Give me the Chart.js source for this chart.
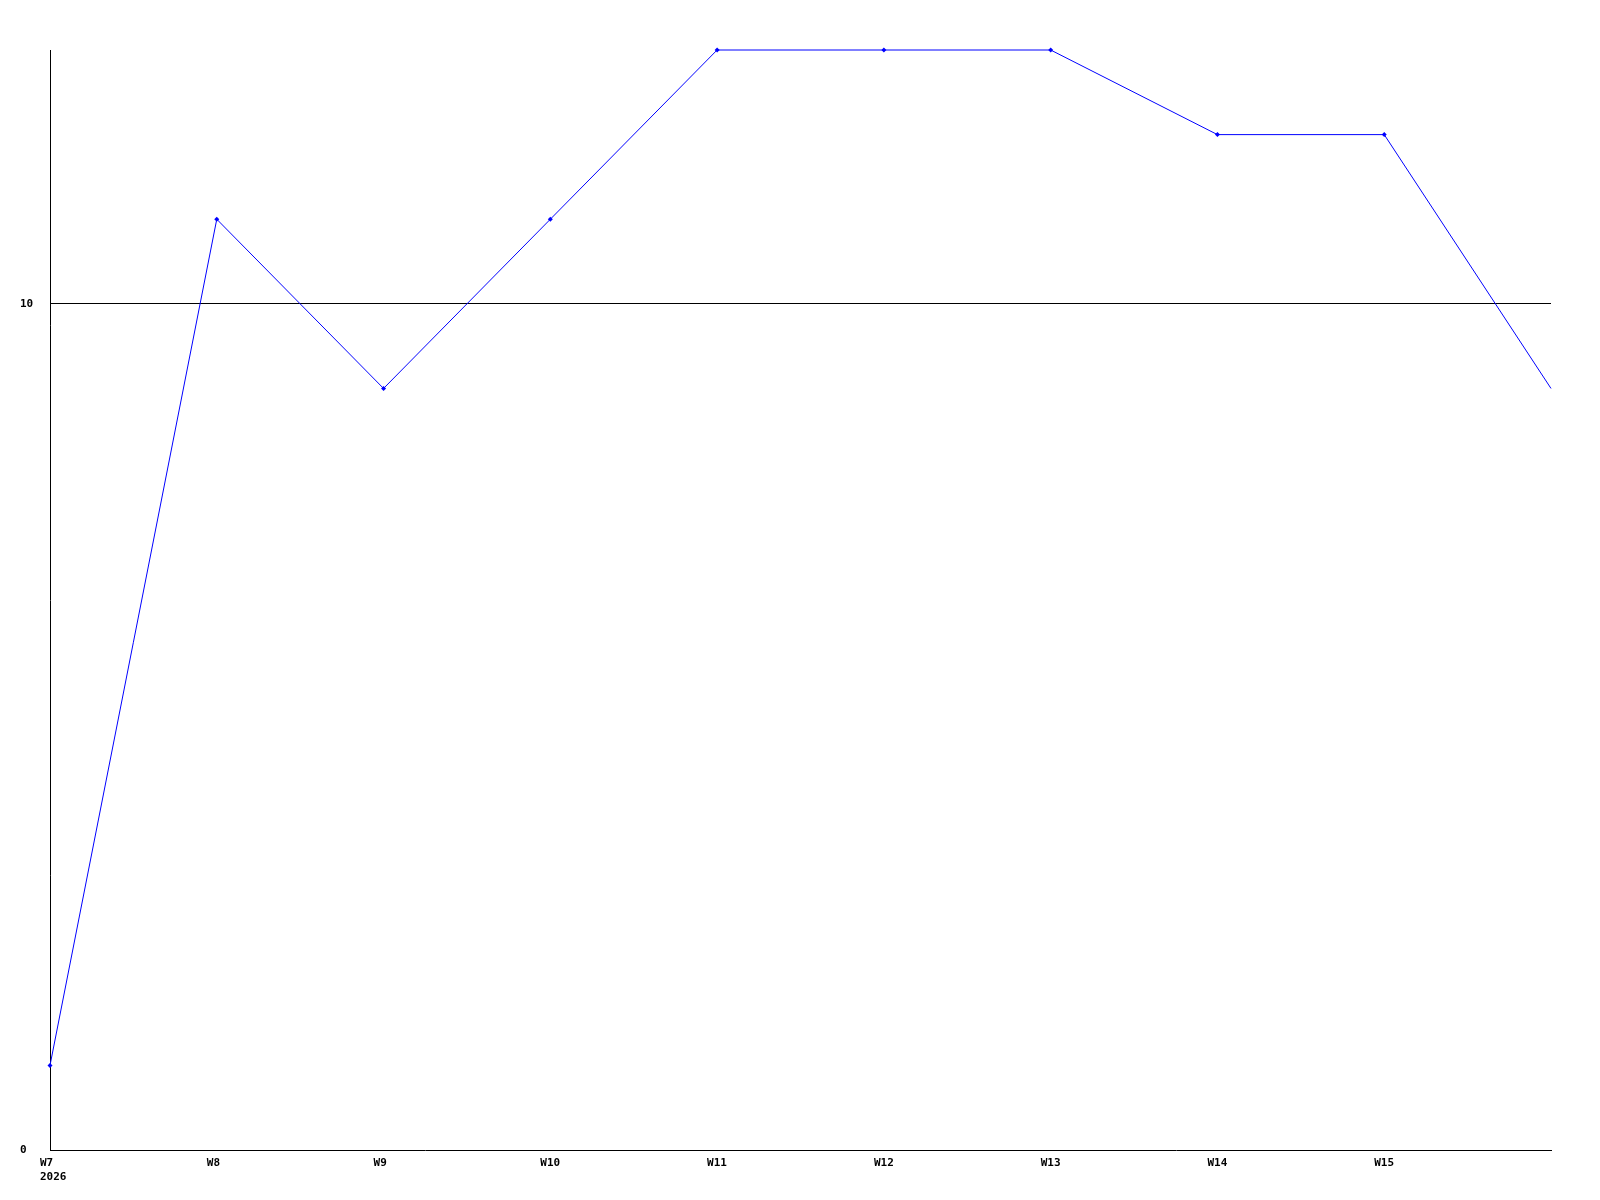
<!DOCTYPE html>
<html>
<head>
<meta charset="utf-8">
<script src="https://cdn.jsdelivr.net/npm/chart.js@4/dist/chart.umd.min.js"></script>
<style>
html,body{margin:0;padding:0;background:#fff;}
#wrap{width:1600px;height:1200px;}
</style>
</head>
<body>
<div id="wrap"><canvas id="c" width="1600" height="1200"></canvas></div>
<script>
const weeks = ['W7','W8','W9','W10','W11','W12','W13','W14','W15','W16'];
const yearLabel = '2026';
const values = [1, 11, 9, 11, 13, 13, 13, 12, 12, 9];
const yTicks = [0, 10];

const font = {family: '"DejaVu Sans Mono", monospace', size: 11, weight: 'bold'};

new Chart(document.getElementById('c'), {
  type: 'line',
  data: {
    labels: weeks,
    datasets: [{
      data: values,
      borderColor: '#0000ff',
      backgroundColor: '#0000ff',
      borderWidth: 1,
      tension: 0,
      fill: false,
      clip: false,
      pointStyle: 'rectRot',
      pointRadius: values.map((v, i) => i === values.length - 1 ? 0 : 2.5),
      pointBorderWidth: 0,
      pointBackgroundColor: '#0000ff'
    }]
  },
  options: {
    responsive: false,
    animation: false,
    devicePixelRatio: 1,
    layout: {padding: {left: 20, top: 50, right: 49, bottom: 0}},
    plugins: {legend: {display: false}, tooltip: {enabled: false}},
    scales: {
      x: {
        type: 'category',
        offset: false,
        grid: {display: true, color: 'rgba(0,0,0,0)', drawTicks: false},
        border: {display: true, color: '#000', width: 1},
        ticks: {
          autoSkip: false,
          maxRotation: 0,
          minRotation: 0,
          align: 'start',
          labelOffset: -10,
          padding: 7,
          color: '#000',
          font: font,
          callback: function(value, index) {
            if (index === weeks.length - 1) return '';
            if (index === 0) return [weeks[0], yearLabel];
            return weeks[index];
          }
        },
        afterFit: function(s) { s.height = 50; }
      },
      y: {
        min: 0,
        max: 13,
        afterBuildTicks: function(s) { s.ticks = yTicks.map(v => ({value: v})); },
        grid: {
          drawTicks: false,
          color: ctx => (ctx.tick && ctx.tick.value === 10) ? '#000' : 'rgba(0,0,0,0)',
          lineWidth: 1
        },
        border: {display: true, color: '#000', width: 1},
        ticks: {
          crossAlign: 'far',
          padding: 0,
          color: '#000',
          font: font,
          callback: v => String(v)
        },
        afterFit: function(s) { s.width = 30; }
      }
    }
  }
});
</script>
</body>
</html>
